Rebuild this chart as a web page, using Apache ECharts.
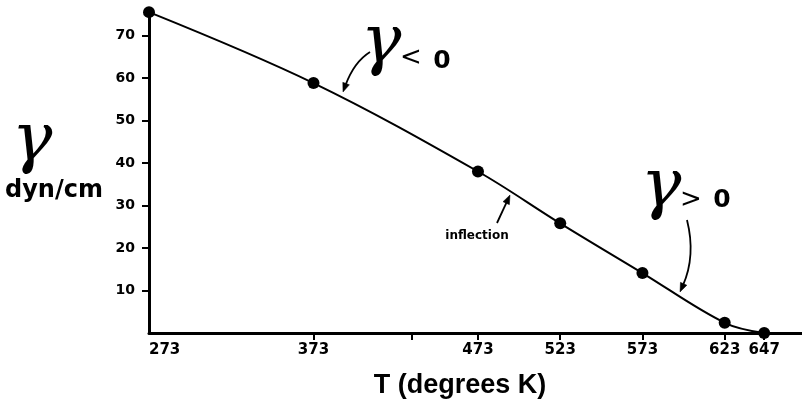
<!DOCTYPE html>
<html>
<head>
<meta charset="utf-8">
<script src="https://cdn.jsdelivr.net/npm/echarts@6/dist/echarts.min.js"></script>
<style>
html,body{margin:0;padding:0;background:#fff;}
#chart{width:802px;height:405px;}
</style>
</head>
<body>
<div id="chart"></div>
<script>
// Data (T in K, surface tension in dyn/cm)
const temps = [273, 373, 473, 523, 573, 623, 647];
const tension = [75.5, 58.8, 38.0, 25.8, 14.1, 2.4, 0];
const xLabelValues = [273, 373, 473, 523, 573, 623, 647];
const xTickValues = [373, 433, 473, 523, 573, 623, 647];
const yTickValues = [10, 20, 30, 40, 50, 60, 70];

const chart = echarts.init(document.getElementById('chart'), null, {renderer: 'canvas'});

function arrow(x1, y1, cx, cy, x2, y2) {
  const dx = x2 - cx, dy = y2 - cy;
  const len = Math.sqrt(dx * dx + dy * dy);
  const ux = dx / len, uy = dy / len;
  const L = 9, W = 3.5;
  const bx = x2 - ux * L, by = y2 - uy * L;
  return [
    {type: 'bezierCurve', shape: {x1: x1, y1: y1, cpx1: cx, cpy1: cy, x2: bx + ux * 2, y2: by + uy * 2},
     style: {stroke: '#000', lineWidth: 1.8, fill: null}},
    {type: 'polygon', shape: {points: [[x2, y2], [bx - uy * W, by + ux * W], [bx + uy * W, by - ux * W]]},
     style: {fill: '#000', stroke: '#000', lineWidth: 0.5}}
  ];
}

const gammaFont = 'italic 68px "DejaVu Serif"';
const graphics = [
  // y-axis name
  {type: 'text', x: 32, y: 142, style: {text: 'γ', font: gammaFont, fill: '#000', align: 'center', verticalAlign: 'middle'}},
  {type: 'text', x: 5, y: 191, style: {text: 'dyn/cm', font: 'bold 24px "DejaVu Sans"', fill: '#000', align: 'left', verticalAlign: 'middle'}},
  // x-axis name
  {type: 'text', x: 460, y: 386, style: {text: 'T (degrees K)', font: 'bold 27px "Liberation Sans"', fill: '#000', align: 'center', verticalAlign: 'middle'}},
  // gamma < 0
  {type: 'text', x: 381, y: 44, style: {text: 'γ', font: gammaFont, fill: '#000', align: 'center', verticalAlign: 'middle'}},
  {type: 'text', x: 411, y: 58, style: {text: '<', font: '26px "DejaVu Sans"', fill: '#000', align: 'center', verticalAlign: 'middle'}},
  {type: 'text', x: 442, y: 61, style: {text: '0', font: 'bold 25px "DejaVu Sans"', fill: '#000', align: 'center', verticalAlign: 'middle'}},
  // gamma > 0
  {type: 'text', x: 661, y: 188, style: {text: 'γ', font: gammaFont, fill: '#000', align: 'center', verticalAlign: 'middle'}},
  {type: 'text', x: 691, y: 200, style: {text: '>', font: '26px "DejaVu Sans"', fill: '#000', align: 'center', verticalAlign: 'middle'}},
  {type: 'text', x: 722, y: 200, style: {text: '0', font: 'bold 25px "DejaVu Sans"', fill: '#000', align: 'center', verticalAlign: 'middle'}},
  // inflection
  {type: 'text', x: 477, y: 236, style: {text: 'inflection', font: 'bold 12px "DejaVu Sans"', fill: '#000', align: 'center', verticalAlign: 'middle'}}
].concat(
  arrow(370, 52, 354, 62, 343, 92),
  arrow(497, 223, 503, 210, 510, 195),
  arrow(687, 220, 696, 256, 680, 292)
);

const labelFont = {fontFamily: 'DejaVu Sans', fontWeight: 'bold', fontSize: 14, color: '#000'};

chart.setOption({
  animation: false,
  backgroundColor: '#fff',
  grid: {left: 149, right: 0, top: 10, bottom: 72, containLabel: false},
  xAxis: {
    type: 'value', min: 273, max: 670,
    axisLine: {show: true, lineStyle: {color: '#000', width: 3}},
    axisTick: {show: true, customValues: xTickValues, length: 7, lineStyle: {color: '#000', width: 2}},
    axisLabel: Object.assign({customValues: xLabelValues, margin: 10, alignMinLabel: 'left'}, labelFont, {fontSize: 15}),
    splitLine: {show: false}
  },
  yAxis: {
    type: 'value', min: 0, max: 76,
    axisLine: {show: true, lineStyle: {color: '#000', width: 3}},
    axisTick: {show: true, customValues: yTickValues, length: 7, lineStyle: {color: '#000', width: 2}},
    axisLabel: Object.assign({customValues: yTickValues, margin: 14}, labelFont),
    splitLine: {show: false}
  },
  series: [{
    type: 'line',
    data: temps.map((t, i) => [t, tension[i]]),
    smooth: 0.35,
    symbol: 'circle',
    symbolSize: 12,
    clip: false,
    itemStyle: {color: '#000'},
    lineStyle: {color: '#000', width: 2}
  }],
  graphic: graphics
});
</script>
</body>
</html>
